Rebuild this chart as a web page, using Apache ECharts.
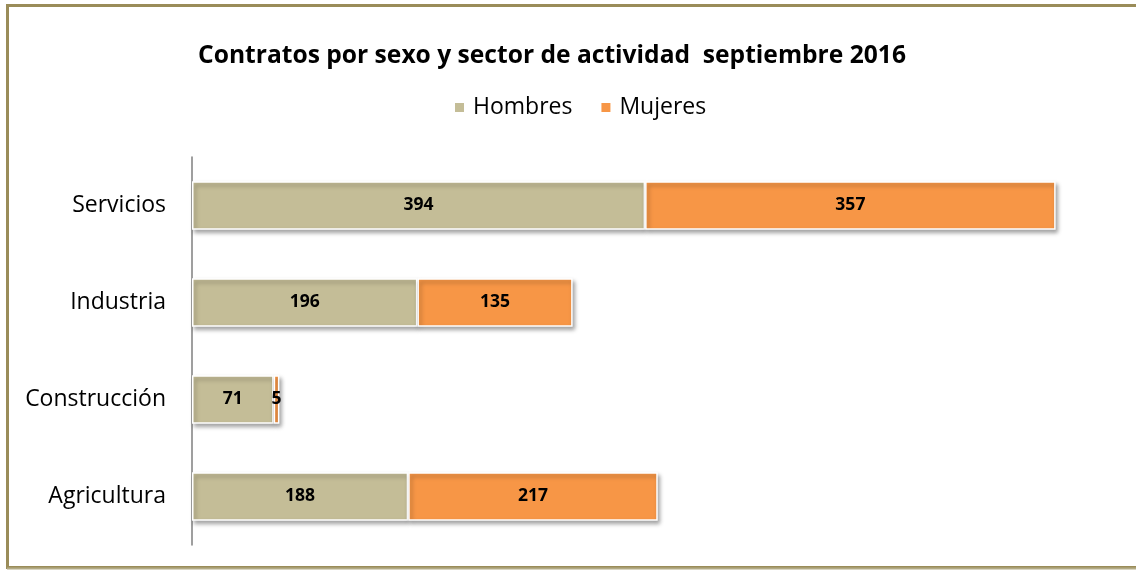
<!DOCTYPE html>
<html>
<head>
<meta charset="utf-8">
<script src="https://cdn.jsdelivr.net/npm/echarts@6/dist/echarts.min.js"></script>
<style>
  html, body { margin: 0; padding: 0; background: #fff; }
  #chart { width: 1136px; height: 570px; }
</style>
</head>
<body>
<div id="chart"></div>
<script>
// Contracts by sex and sector, September 2016
const sectores = ['Servicios', 'Industria', 'Construcción', 'Agricultura'];
const hombres = [394, 196, 71, 188];
const mujeres = [357, 135, 5, 217];

const FONT = '"Open Sans", "Noto Sans", sans-serif';

const chart = echarts.init(document.getElementById('chart'), null, { renderer: 'canvas' });

const barStyle = (color) => ({
  color: color,
  borderColor: '#ffffff',
  borderWidth: 1.5,
  shadowColor: 'rgba(0,0,0,0.35)',
  shadowBlur: 4,
  shadowOffsetX: 2,
  shadowOffsetY: 3
});

const valueLabel = {
  show: true,
  position: 'inside',
  color: '#000',
  fontFamily: FONT,
  fontWeight: 'bold',
  fontSize: 17.5
};

chart.setOption({
  animation: false,
  backgroundColor: '#ffffff',
  title: {
    text: 'Contratos por sexo y sector de actividad  septiembre 2016',
    left: 193,
    top: 38,
    textStyle: { fontFamily: FONT, fontWeight: 'bold', fontSize: 24.6, color: '#000' }
  },
  legend: {
    top: 91,
    left: 448,
    itemWidth: 11,
    itemHeight: 11,
    itemGap: 27,
    icon: 'rect',
    textStyle: { fontFamily: FONT, fontSize: 23, color: '#000', padding: [0, 0, 0, 3] },
    data: ['Hombres', 'Mujeres']
  },
  grid: { left: 192, right: 24, top: 157, bottom: 25, containLabel: false },
  xAxis: {
    type: 'value',
    min: 0,
    max: 800,
    show: false
  },
  yAxis: {
    type: 'category',
    data: sectores,
    inverse: true,
    axisLine: { show: true, lineStyle: { color: '#7f7f7f', width: 1.5 } },
    axisTick: { show: false },
    axisLabel: { margin: 26, fontFamily: FONT, fontSize: 23, color: '#000' }
  },
  series: [
    {
      name: 'Hombres',
      type: 'bar',
      stack: 'total',
      barWidth: '50%',
      data: hombres,
      itemStyle: barStyle('#c4bd97'),
      label: valueLabel
    },
    {
      name: 'Mujeres',
      type: 'bar',
      stack: 'total',
      barWidth: '50%',
      data: mujeres,
      itemStyle: barStyle('#f79646'),
      label: valueLabel
    }
  ],
  graphic: [
    {
      type: 'rect',
      shape: { x: 7.5, y: 5.5, width: 1140, height: 562 },
      style: { fill: 'none', stroke: '#9a8c59', lineWidth: 3 },
      silent: true,
      z: -1
    },
    {
      type: 'line',
      shape: { x1: 7, y1: 568.5, x2: 1136, y2: 568.5 },
      style: { stroke: '#b3ab86', lineWidth: 2 },
      silent: true
    }
  ]
});
</script>
</body>
</html>
